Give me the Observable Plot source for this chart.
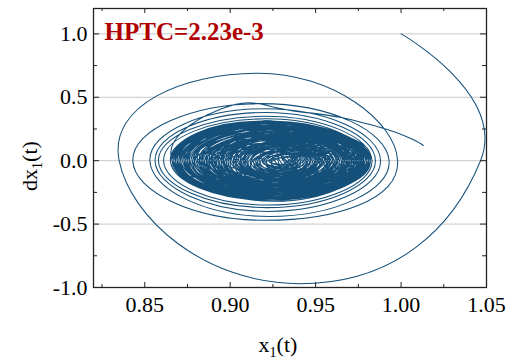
<!DOCTYPE html>
<html><head><meta charset="utf-8">
<script src="https://cdn.jsdelivr.net/npm/d3@7"></script>
<script src="https://cdn.jsdelivr.net/npm/@observablehq/plot@0.6"></script>
<style>body{margin:0;background:#fff}svg, svg text{font-family:"Liberation Serif","Times New Roman",serif !important}</style>
</head><body><div id="chart"></div>
<script>
// Trajectory start point (x1, dx1)
const startX = 1.0, startY = 1.0;
// Each loop (clockwise): right extreme, bottom, left extreme, top
const loopRight = [1.0465,0.998,0.993,0.988,0.985,0.983,
 0.981,0.976,0.962,0.948,0.957,0.979,0.980,0.969,0.952,0.941,
 0.958,0.975,0.982,0.977,0.965,0.950,0.944,0.960,0.972,0.981,
 0.978,0.966,0.953,0.939,0.947,0.963,0.974,0.980,0.973,0.961,
 0.949,0.945,0.955,0.970,0.979,0.982,0.968,0.956,0.942,0.951,
 0.975,0.970,0.936,0.945,0.967,0.978,0.981,0.964,0.977,0.940,
 0.959,0.971,0.980,0.976,0.954,0.938,0.962,0.973,0.943,0.969,
 0.979,0.982,0.966,0.950,0.937,0.958,0.974,0.934,0.963,0.977,
 0.981,0.972,0.957,0.946,0.952,0.968,0.978,0.980,0.975,0.960,
 0.979,0.965,0.948,0.956,0.971,0.981,0.976,0.962,0.944,0.939,
 0.953,0.967,0.978,0.982,0.970,0.958,0.976,0.935,0.961,0.973,
 0.980,0.977,0.963,0.951,0.943,0.955,0.969,0.979,0.981,0.974,
 0.960,0.947,0.972,0.938,0.964,0.976,0.982,0.971,0.957,0.940,
 0.950,0.966,0.977,0.980,0.968,0.953,0.978,0.937,0.959,0.974,
 0.981,0.975,0.961,0.946,0.954,0.970,0.979,0.982,0.967,0.955];
const loopBottom = [-0.97,-0.47,-0.44,-0.40,-0.37,-0.35,
 -0.31,-0.28,-0.22,-0.14,-0.19,-0.29,-0.30,-0.24,-0.15,-0.09,
 -0.17,-0.26,-0.32,-0.29,-0.23,-0.13,-0.11,-0.20,-0.25,-0.30,
 -0.28,-0.21,-0.16,-0.06,-0.10,-0.19,-0.27,-0.31,-0.26,-0.20,
 -0.12,-0.08,-0.18,-0.24,-0.30,-0.29,-0.22,-0.16,-0.07,-0.13,
 -0.15,-0.18,-0.12,-0.17,-0.23,-0.27,-0.31,-0.21,-0.20,-0.14,
 -0.19,-0.25,-0.29,-0.27,-0.11,-0.05,-0.22,-0.16,-0.15,-0.24,
 -0.28,-0.30,-0.20,-0.12,-0.04,-0.17,-0.13,-0.10,-0.21,-0.26,
 -0.30,-0.25,-0.18,-0.09,-0.14,-0.23,-0.29,-0.31,-0.24,-0.19,
 -0.27,-0.20,-0.10,-0.15,-0.22,-0.28,-0.30,-0.24,-0.13,-0.03,
 -0.09,-0.19,-0.26,-0.31,-0.23,-0.17,-0.11,-0.08,-0.16,-0.21,
 -0.29,-0.27,-0.18,-0.11,-0.06,-0.14,-0.22,-0.28,-0.30,-0.25,
 -0.18,-0.12,-0.17,-0.13,-0.20,-0.26,-0.29,-0.24,-0.15,-0.07,
 -0.12,-0.19,-0.27,-0.31,-0.21,-0.14,-0.14,-0.11,-0.17,-0.24,
 -0.29,-0.26,-0.19,-0.08,-0.13,-0.22,-0.28,-0.30,-0.23,-0.16];
const loopLeft = [0.835,0.843,0.853,0.856,0.858,0.861,
 0.866,0.872,0.889,0.910,0.897,0.868,0.875,0.884,0.906,0.918,
 0.912,0.892,0.870,0.867,0.880,0.900,0.914,0.902,0.878,0.869,
 0.873,0.886,0.903,0.921,0.916,0.895,0.876,0.865,0.871,0.891,
 0.908,0.920,0.898,0.882,0.867,0.874,0.887,0.905,0.924,0.911,
 0.928,0.919,0.885,0.879,0.893,0.870,0.868,0.883,0.926,0.889,
 0.899,0.877,0.866,0.873,0.913,0.922,0.896,0.931,0.881,0.885,
 0.871,0.869,0.890,0.909,0.925,0.907,0.933,0.892,0.888,0.874,
 0.867,0.879,0.901,0.917,0.904,0.886,0.870,0.865,0.876,0.894,
 0.872,0.893,0.915,0.903,0.884,0.869,0.866,0.881,0.906,0.923,
 0.912,0.897,0.877,0.868,0.882,0.899,0.935,0.897,0.907,0.889,
 0.871,0.867,0.886,0.902,0.919,0.910,0.894,0.875,0.866,0.880,
 0.896,0.913,0.929,0.887,0.900,0.878,0.870,0.883,0.904,0.921,
 0.909,0.891,0.873,0.867,0.888,0.906,0.932,0.890,0.898,0.879,
 0.868,0.874,0.895,0.916,0.908,0.886,0.871,0.866,0.884,0.866];
const loopTop = [0.69,0.45,0.41,0.38,0.35,0.33,
 0.30,0.27,0.21,0.12,0.23,0.31,0.28,0.22,0.14,0.08,
 0.18,0.25,0.30,0.27,0.20,0.16,0.10,0.21,0.26,0.31,
 0.26,0.19,0.13,0.05,0.11,0.22,0.28,0.29,0.24,0.17,
 0.15,0.09,0.20,0.25,0.30,0.27,0.21,0.12,0.07,0.14,
 0.17,0.19,0.13,0.18,0.24,0.29,0.28,0.23,0.15,0.12,
 0.18,0.26,0.31,0.26,0.10,0.06,0.19,0.14,0.16,0.23,
 0.30,0.29,0.22,0.13,0.04,0.17,0.12,0.09,0.24,0.28,
 0.30,0.24,0.16,0.08,0.15,0.21,0.27,0.31,0.25,0.20,
 0.29,0.18,0.07,0.17,0.24,0.28,0.30,0.22,0.11,0.03,
 0.13,0.20,0.27,0.29,0.22,0.16,0.10,0.07,0.19,0.23,
 0.30,0.26,0.20,0.13,0.05,0.16,0.21,0.28,0.30,0.23,
 0.17,0.09,0.15,0.14,0.22,0.27,0.31,0.25,0.14,0.06,
 0.12,0.19,0.26,0.29,0.21,0.15,0.13,0.10,0.21,0.26,
 0.30,0.24,0.18,0.08,0.14,0.23,0.28,0.31,0.22,0.17];
// final excursion out of the attractor
const tailX = [0.895, 0.941, 0.986, 1.013];
const tailY = [0.41, 0.385, 0.27, 0.12];

const xMajor = [0.85, 0.90, 0.95, 1.00, 1.05];
const xMinor = [0.825, 0.875, 0.925, 0.975, 1.025];
const xTickLabels = ["0.85", "0.90", "0.95", "1.00", "1.05"];
const yMajor = [-1.0, -0.5, 0.0, 0.5, 1.0];
const yMinor = [-0.75, -0.25, 0.25, 0.75];
const yTickLabels = ["-1.0", "-0.5", "0.0", "0.5", "1.0"];
const yGrid = [-0.5, 0.0, 0.5, 1.0];
const title = "HPTC=2.23e-3";

// build trajectory table
const traj = [{x: startX, y: startY}];
const n = loopRight.length;
for (let i = 0; i < n; i++) {
  traj.push({x: loopRight[i], y: 0});
  traj.push({x: (loopRight[i] + loopLeft[i]) / 2, y: loopBottom[i]});
  traj.push({x: loopLeft[i], y: 0});
  if (i < n - 1) traj.push({x: (loopLeft[i] + loopRight[i + 1]) / 2, y: loopTop[i]});
}
tailX.forEach((x, i) => traj.push({x, y: tailY[i]}));

const W = 513, H = 362, mL = 93, mR = 27, mT = 8, mB = 75;
const fw = W - mL - mR, fh = H - mT - mB;
const ink = "#222";
const serif = '"Liberation Serif","Times New Roman",serif';

const chart = Plot.plot({
  width: W, height: H,
  marginLeft: mL, marginRight: mR, marginTop: mT, marginBottom: mB,
  style: {fontFamily: serif, background: "#fff", color: "#000"},
  x: {domain: [0.82, 1.05]},
  y: {domain: [-1.0, 1.2]},
  marks: [
    Plot.ruleY(yGrid, {stroke: "#c8c8c8", strokeWidth: 1}),
    Plot.line(traj, {x: "x", y: "y", stroke: "#15507a", strokeWidth: 1.05, curve: "cardinal", tension: -0.6}),
    Plot.axisX({ticks: xMajor, tickSize: 0, tickPadding: 9, fontSize: 22, label: null, fontFamily: serif,
      tickFormat: d => xTickLabels[xMajor.indexOf(d)]}),
    Plot.axisY({ticks: yMajor, tickSize: 0, tickPadding: 6, fontSize: 22, label: null, fontFamily: serif,
      tickFormat: d => yTickLabels[yMajor.indexOf(d)]}),
    Plot.ruleX(xMajor, {stroke: ink, insetTop: fh - 5}),
    Plot.ruleX(xMinor, {stroke: ink, insetTop: fh - 3}),
    Plot.ruleX(xMajor, {stroke: ink, insetBottom: fh - 5}),
    Plot.ruleX(xMinor, {stroke: ink, insetBottom: fh - 3}),
    Plot.ruleY(yMajor, {stroke: ink, insetRight: fw - 6}),
    Plot.ruleY(yMinor, {stroke: ink, insetRight: fw - 4}),
    Plot.ruleY(yMajor, {stroke: ink, insetLeft: fw - 6}),
    Plot.ruleY(yMinor, {stroke: ink, insetLeft: fw - 4}),
    Plot.frame({stroke: ink, strokeWidth: 1.3}),
    Plot.text([title], {frameAnchor: "top-left", dx: 11, dy: 14, textAnchor: "start", lineAnchor: "top",
      fill: "#b00000", fontWeight: "bold", fontSize: 25, fontFamily: serif})
  ]
});

const svg = d3.select(chart);
svg.append("text")
  .attr("x", 278).attr("y", 352)
  .attr("text-anchor", "middle")
  .attr("font-size", 22)
  .html('x<tspan dy="5" font-size="14">1</tspan><tspan dy="-5">(t)</tspan>');
svg.append("text")
  .attr("transform", "translate(37,166) rotate(-90)")
  .attr("text-anchor", "middle")
  .attr("font-size", 22)
  .html('dx<tspan dy="5" font-size="14">1</tspan><tspan dy="-5">(t)</tspan>');

document.getElementById("chart").appendChild(chart);
</script></body></html>
